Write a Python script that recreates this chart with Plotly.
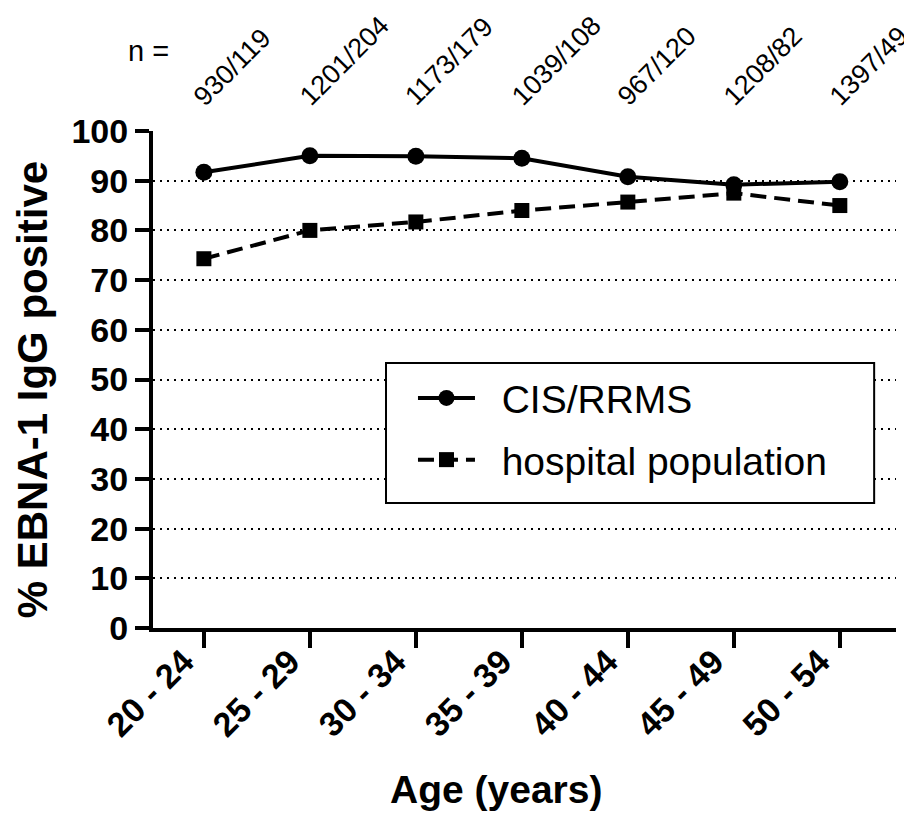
import plotly.graph_objects as go

age_groups = ["20 - 24", "25 - 29", "30 - 34", "35 - 39", "40 - 44", "45 - 49", "50 - 54"]
cis_rrms = [91.7, 95.0, 94.9, 94.5, 90.8, 89.2, 89.8]
hospital = [74.3, 80.0, 81.7, 84.0, 85.7, 87.5, 85.0]
n_labels = ["930/119", "1201/204", "1173/179", "1039/108", "967/120", "1208/82", "1397/49"]
y_ticks = [0, 10, 20, 30, 40, 50, 60, 70, 80, 90, 100]

FONT = "Arial, Liberation Sans, sans-serif"
NB = "\u00a0"
xpos = list(range(len(age_groups)))

fig = go.Figure()
fig.add_trace(go.Scatter(
    x=xpos, y=cis_rrms, name=NB * 2 + "CIS/RRMS", mode="lines+markers",
    legendgroup="a",
    line=dict(color="black", width=4),
    marker=dict(symbol="circle", size=17, color="black"),
    cliponaxis=False,
))
fig.add_trace(go.Scatter(
    x=xpos, y=hospital, name=NB * 2 + "hospital population", mode="lines+markers",
    legendgroup="b",
    line=dict(color="black", width=4, dash="16px,8px"),
    marker=dict(symbol="square", size=15, color="black"),
    cliponaxis=False,
))

annotations = []
for i, lab in enumerate(n_labels):
    annotations.append(dict(
        x=i, y=1.034, xref="x", yref="paper", text=lab, showarrow=False,
        textangle=-45, xanchor="left", yanchor="bottom", xshift=-19,
        font=dict(family=FONT, size=27, color="black"),
    ))
annotations.append(dict(
    x=-0.0054, y=1.160, xref="paper", yref="paper", text="n =", showarrow=False,
    xanchor="center", yanchor="middle",
    font=dict(family=FONT, size=29, color="black"),
))
annotations.append(dict(
    x=0.461, y=-0.324, xref="paper", yref="paper", text="<b>Age (years)</b>",
    showarrow=False, xanchor="center", yanchor="middle",
    font=dict(family=FONT, size=39, color="black"),
))
annotations.append(dict(
    x=-0.161, y=0.479, xref="paper", yref="paper", text="<b>% EBNA-1 IgG positive</b>",
    showarrow=False, xanchor="center", yanchor="middle", textangle=-90,
    font=dict(family=FONT, size=42, color="black"),
))

fig.update_layout(
    width=912, height=832,
    margin=dict(l=145, r=24, t=123, b=212),
    paper_bgcolor="white", plot_bgcolor="white",
    font=dict(family=FONT, color="black"),
    showlegend=True,
    legend=dict(
        x=0.3499, y=0.527, xanchor="left", yanchor="top",
        borderwidth=0, bgcolor="rgba(0,0,0,0)",
        font=dict(family=FONT, size=39, color="black"),
        itemwidth=57, tracegroupgap=8,
    ),
    shapes=[dict(
        type="rect", xref="paper", yref="paper",
        x0=0.3136, x1=0.9706, y0=0.2515, y1=0.533,
        line=dict(color="black", width=2), fillcolor="white", layer="above",
    )],
    annotations=annotations,
    xaxis=dict(
        range=[-0.48, 6.53], tickmode="array", tickvals=xpos, ticktext=age_groups,
        tickangle=-45, showgrid=False, zeroline=False,
        showline=True, linecolor="black", linewidth=4,
        ticks="outside", ticklen=16, tickwidth=4, tickcolor="black",
        ticklabelstandoff=-20, ticklabelshift=-20,
        tickfont=dict(family=FONT, size=34, color="black", weight="bold"),
    ),
    yaxis=dict(
        range=[0, 100], tickmode="array", tickvals=y_ticks,
        showgrid=True, gridcolor="black", gridwidth=1.5, griddash="2px,5px",
        zeroline=False, showline=True, linecolor="black", linewidth=4,
        ticks="outside", ticklen=14, tickwidth=4, tickcolor="black",
        tickfont=dict(family=FONT, size=34, color="black", weight="bold"),
    ),
)

fig.write_html("out.html")
